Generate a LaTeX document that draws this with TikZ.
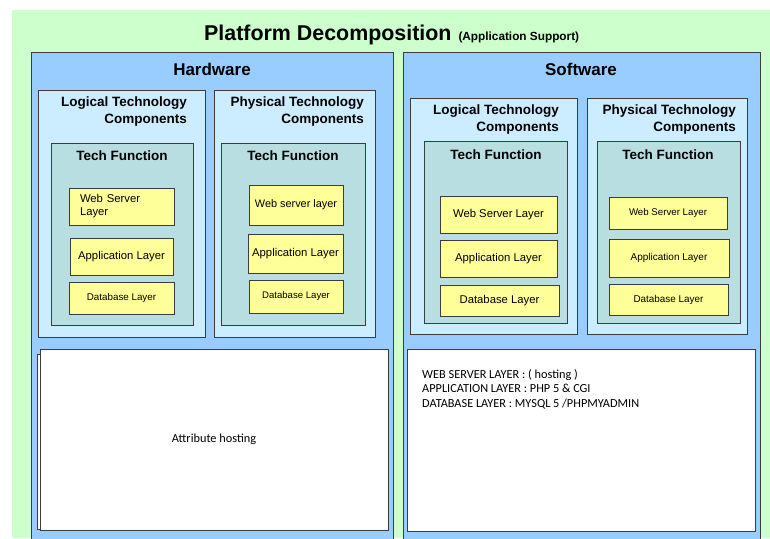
\documentclass[tikz,border=0pt]{standalone}
\usepackage{fontspec}
\setmainfont{Liberation Sans}
\newfontfamily\calibrifont{Carlito}
\usepackage{tikz}
\usetikzlibrary{positioning}
\definecolor{bggreen}{RGB}{204,255,204}
\definecolor{areablue}{RGB}{153,204,255}
\definecolor{compblue}{RGB}{204,236,255}
\definecolor{fnteal}{RGB}{185,222,225}
\definecolor{layeryellow}{RGB}{255,255,153}
\definecolor{edgegray}{RGB}{60,60,60}
\newcommand{\fsz}[2]{\fontsize{#1}{#2}\selectfont}

\begin{document}
\begin{tikzpicture}[x=1pt, y=-1pt]
      % Styles
      \tikzset{box/.style={draw=edgegray, line width=0.8pt, rectangle, anchor=north west, inner sep=0pt, outer sep=0pt}}
      \tikzset{area/.style={box, fill=areablue}}
      \tikzset{comp/.style={box, fill=compblue}}
      \tikzset{techfn/.style={box, fill=fnteal}}
      \tikzset{layer/.style={box, fill=layeryellow, align=center, font=\fsz{11.3}{13}}}
      \tikzset{infobox/.style={box, fill=white}}
      \tikzset{areatitle/.style={font=\fsz{17}{20}\bfseries, inner sep=0pt}}
      \tikzset{comptitle/.style={font=\fsz{13.5}{17}\bfseries, align=right, inner sep=0pt}}
      \tikzset{fntitle/.style={font=\fsz{13.5}{16}\bfseries, inner sep=0pt}}

      \useasboundingbox (0,0) rectangle (770,538);

      % --- Background and heading ---
      \node[box, draw=none, fill=bggreen, minimum width=758, minimum height=528] (bg) at (12,10) {};
      \node[anchor=base west, inner sep=0pt] (heading) at (204,40)
        {{\fsz{21.4}{24}\bfseries Platform Decomposition}\hspace{7pt}{\fsz{11.8}{13}\bfseries (Application Support)}};

      % --- The two areas ---
      \node[area, minimum width=362, minimum height=492] (hw) at (31,52) {};
      \node[area, minimum width=357, minimum height=492] (sw) at (403,52) {};
      \node[areatitle] (hwtitle) at (212,69) {Hardware};
      \node[areatitle] (swtitle) at (581,69) {Software};

      % --- Hardware components ---
      \node[comp, minimum width=167, minimum height=247] (hwlog) at (38,90) {};
      \node[comp, minimum width=161, minimum height=247] (hwphys) at (214,90) {};
      \node[comptitle, anchor=east] at (187,112) {Logical Technology\\Components};
      \node[comptitle, anchor=east] at (364,112) {Physical Technology\\Components\hspace{6pt}};

      \node[techfn, minimum width=142, minimum height=182] (hwlogtf) at (51,143) {};
      \node[techfn, minimum width=144, minimum height=182] (hwphystf) at (221,143) {};
      \node[fntitle] at (122,156) {Tech Function};
      \node[fntitle] at (293,156) {Tech Function};

      \node[layer, minimum width=105, minimum height=37, align=left, text width=95, inner sep=0pt] (hwlogweb) at (69,188)
        {\hspace*{6pt}Web Server\\\hspace*{6pt}Layer};
      \node[layer, minimum width=103, minimum height=37] (hwlogapp) at (70,238) {Application Layer};
      \node[layer, minimum width=105, minimum height=32, font=\fsz{9.8}{12}] (hwlogdb) at (69,282) {Database Layer};

      \node[layer, minimum width=94, minimum height=40, font=\fsz{10.9}{13}] (hwphysweb) at (249,185) {Web server layer};
      \node[layer, minimum width=95, minimum height=39] (hwphysapp) at (248,234) {Application Layer};
      \node[layer, minimum width=94, minimum height=33, font=\fsz{9.6}{12}] (hwphysdb) at (249,280) {Database Layer};

      % --- Software components ---
      \node[comp, minimum width=167, minimum height=236] (swlog) at (410,98) {};
      \node[comp, minimum width=160, minimum height=236] (swphys) at (587,98) {};
      \node[comptitle, anchor=east] at (559,120) {Logical Technology\\Components};
      \node[comptitle, anchor=east] at (736,120) {Physical Technology\\Components\hspace{6pt}};

      \node[techfn, minimum width=143, minimum height=182] (swlogtf) at (424,141) {};
      \node[techfn, minimum width=143, minimum height=182] (swphystf) at (597,141) {};
      \node[fntitle] at (496,155) {Tech Function};
      \node[fntitle] at (668,155) {Tech Function};

      \node[layer, minimum width=117, minimum height=37] (swlogweb) at (440,196) {Web Server Layer};
      \node[layer, minimum width=117, minimum height=37] (swlogapp) at (440,240) {Application Layer};
      \node[layer, minimum width=119, minimum height=31] (swlogdb) at (440,285) {Database Layer};

      \node[layer, minimum width=118, minimum height=32, font=\fsz{9.7}{12}] (swphysweb) at (609,197) {Web Server Layer};
      \node[layer, minimum width=120, minimum height=38, font=\fsz{10}{12}] (swphysapp) at (609,239) {Application Layer};
      \node[layer, minimum width=119, minimum height=31, font=\fsz{9.9}{12}] (swphysdb) at (609,284) {Database Layer};

      % --- Attribute boxes ---
      \node[box, fill=white, minimum width=20, minimum height=175] (hwshadow) at (37,354) {};
      \node[infobox, minimum width=348, minimum height=181] (hwinfo) at (40,349) {};
      \node[font=\calibrifont\fsz{12.3}{14}] at (hwinfo.center) {Attribute hosting};

      \node[infobox, minimum width=348, minimum height=182] (swinfo) at (407,349) {};
      \node[anchor=north west, align=left, inner sep=0pt, font=\calibrifont\fsz{12.3}{14.5}] at (422,369)
        {WEB SERVER LAYER : ( hosting )\\APPLICATION LAYER : PHP 5 \& CGI\\DATABASE LAYER : MYSQL 5 /PHPMYADMIN};

    \end{tikzpicture}
\end{document}
